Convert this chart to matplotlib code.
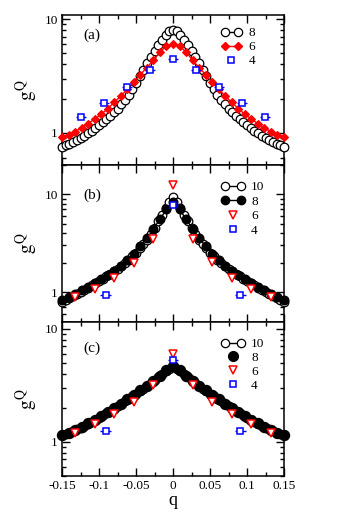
import numpy as np
import matplotlib
matplotlib.use("Agg")
import matplotlib.pyplot as plt
from matplotlib.lines import Line2D
from matplotlib.legend_handler import HandlerLine2D
from matplotlib.ticker import LogLocator, NullFormatter, MultipleLocator

plt.rcParams['font.family'] = ['Liberation Serif', 'DejaVu Serif']
plt.rcParams['mathtext.fontset'] = 'stix'

# ---------------- data ----------------
q_dense = np.round(np.linspace(-0.15, 0.15, 61), 4)
q_mid = np.round(np.linspace(-0.15, 0.15, 35), 4)

# panel (a)
a_g8 = [0.75,0.775,0.80,0.83,0.86,0.90,0.94,0.99,1.04,1.10,1.17,1.23,1.31,1.40,1.51,1.63,1.78,1.95,2.17,2.42,2.72,3.15,3.6,4.1,4.65,5.3,5.9,6.6,7.3,7.8,8.0,
        7.8,7.3,6.6,5.9,5.3,4.65,4.1,3.6,3.15,2.72,2.42,2.17,1.95,1.78,1.63,1.51,1.40,1.31,1.23,1.17,1.10,1.04,0.99,0.94,0.90,0.86,0.83,0.80,0.775,0.75]
a_g6 = [0.91,0.96,1.02,1.1,1.2,1.32,1.45,1.63,1.85,2.1,2.42,2.78,3.25,3.75,4.35,5.15,5.8,6.0,
        5.8,5.15,4.35,3.75,3.25,2.78,2.42,2.1,1.85,1.63,1.45,1.32,1.2,1.1,1.02,0.96,0.91]
a_q4 = [-0.124,-0.093,-0.062,-0.031,0.0,0.031,0.062,0.093,0.124]
a_g4 = [1.37,1.84,2.55,3.55,4.44,3.55,2.55,1.84,1.37]

# panel (b)
b_g10 = [0.79,0.83,0.87,0.91,0.96,1.0,1.06,1.11,1.17,1.23,1.30,1.37,1.45,1.53,1.63,1.73,1.83,1.97,2.13,2.32,2.54,2.8,3.1,3.45,3.9,4.5,5.3,6.2,7.3,8.4,9.5,
         8.4,7.3,6.2,5.3,4.5,3.9,3.45,3.1,2.8,2.54,2.32,2.13,1.97,1.83,1.73,1.63,1.53,1.45,1.37,1.30,1.23,1.17,1.11,1.06,1.0,0.96,0.91,0.87,0.83,0.79]
b_g8 = [0.83,0.89,0.96,1.04,1.13,1.24,1.36,1.49,1.66,1.86,2.12,2.47,2.95,3.55,4.4,5.6,7.0,8.3,
        7.0,5.6,4.4,3.55,2.95,2.47,2.12,1.86,1.66,1.49,1.36,1.24,1.13,1.04,0.96,0.89,0.83]
b_q6 = [-0.1324,-0.1059,-0.0794,-0.0529,-0.0265,0.0,0.0265,0.0529,0.0794,0.1059,0.1324]
b_g6 = [0.89,1.08,1.38,1.97,3.46,12.6,3.46,2.03,1.40,1.08,0.89]
b_q4 = [-0.091,0.0,0.091]
b_g4 = [0.94,7.7,0.94]

# panel (c)
c_g10 = [1.15,1.18,1.21,1.25,1.29,1.34,1.39,1.45,1.51,1.57,1.64,1.72,1.8,1.88,1.97,2.07,2.18,2.3,2.42,2.54,2.67,2.8,2.96,3.12,3.3,3.5,3.75,4.0,4.2,4.4,4.55,
         4.4,4.2,4.0,3.75,3.5,3.3,3.12,2.96,2.8,2.67,2.54,2.42,2.3,2.18,2.07,1.97,1.88,1.8,1.72,1.64,1.57,1.51,1.45,1.39,1.34,1.29,1.25,1.21,1.18,1.15]
c_g8 = [1.15,1.21,1.28,1.36,1.46,1.57,1.7,1.84,2.0,2.18,2.39,2.6,2.85,3.13,3.45,3.85,4.3,4.65,
        4.3,3.85,3.45,3.13,2.85,2.6,2.39,2.18,2.0,1.84,1.7,1.57,1.46,1.36,1.28,1.21,1.15]
c_q6 = [-0.1324,-0.1059,-0.0794,-0.0529,-0.0265,0.0,0.0265,0.0529,0.0794,0.1059,0.1324]
c_g6 = [1.21,1.45,1.75,2.27,3.18,6.0,3.18,2.27,1.75,1.45,1.21]
c_q4 = [-0.091,0.0,0.091]
c_g4 = [1.24,5.3,1.24]

xticks = [-0.15,-0.1,-0.05,0,0.05,0.1,0.15]
xticklabels = ['-0.15','-0.1','-0.05','0','0.05','0.1','0.15']

# ---------------- figure ----------------
W, H = 355, 515
fig = plt.figure(figsize=(W/100, H/100), dpi=100)

def px_axes(top, bottom):
    return fig.add_axes([62/W, (H-bottom)/H, 222/W, (bottom-top)/H])

axa = px_axes(15, 164.5)
axb = px_axes(164.5, 321.5)
axc = px_axes(321.5, 476)

BLUE = '#0000ff'
RED = '#ff0000'

def style(ax, ylim, label, labely, showx):
    ax.set_yscale('log')
    ax.set_xlim(-0.15, 0.15)
    ax.set_ylim(*ylim)
    ax.set_yticks([1, 10])
    ax.set_yticklabels(['1', '10'])
    ax.yaxis.set_minor_locator(LogLocator(base=10, subs=np.arange(2, 10)))
    ax.yaxis.set_minor_formatter(NullFormatter())
    ax.xaxis.set_major_locator(MultipleLocator(0.05))
    ax.xaxis.set_minor_locator(MultipleLocator(0.025))
    ax.set_xticks(xticks)
    if showx:
        ax.set_xticklabels(xticklabels)
        ax.set_xlabel('q', fontsize=13, labelpad=0)
    else:
        ax.set_xticklabels([])
    ax.tick_params(which='both', direction='in', top=True, right=True, width=1.0)
    ax.tick_params(which='major', length=5.5, labelsize=9.5, pad=3)
    ax.tick_params(which='minor', length=3)
    for s in ax.spines.values():
        s.set_linewidth(1.1)
    ax.set_ylabel(r'$\mathrm{g}^{\mathrm{Q}}$', fontsize=14)
    ax.yaxis.set_label_coords(-0.10, 0.5)
    ax.text(0.095, labely, label, transform=ax.transAxes, fontsize=11, va='center', ha='left')

def squares(ax, q, g):
    ax.errorbar(q, g, xerr=0.007, fmt='none', ecolor=BLUE, elinewidth=1.0, capsize=0, zorder=5, clip_on=False)
    ax.plot(q, g, ls='none', marker='s', ms=5, mfc='white', mec=BLUE, mew=1.1, zorder=6, clip_on=False)

LEG = dict(loc='upper left', frameon=False, numpoints=2, handletextpad=0.5,
           borderpad=0, borderaxespad=0, fontsize=9.5)

# ---- panel (a)
axa.plot(q_dense, a_g8, '-', color='black', lw=1, marker='o', ms=6.2, mfc='white', mec='black', mew=0.9, zorder=3, clip_on=False)
axa.plot(q_mid, a_g6, '-', color=RED, lw=1, marker='D', ms=3.8, mfc=RED, mec=RED, mew=0.8, zorder=4, clip_on=False)
squares(axa, a_q4, a_g4)
style(axa, (0.524, 10.9), '(a)', 0.867, False)
h8 = Line2D([], [], color='black', lw=1, marker='o', ms=6, mfc='white', mec='black', mew=0.9)
h6 = Line2D([], [], color=RED, lw=1, marker='D', ms=3.8, mfc=RED, mec=RED)
h4 = Line2D([], [], ls='none', marker='s', ms=5, mfc='white', mec=BLUE, mew=1.1)
axa.legend([h8, h6, h4], ['8', '6', '4'], bbox_to_anchor=(0.715, 0.918),
           handlelength=1.6, labelspacing=0.12,
           handler_map={h4: HandlerLine2D(numpoints=1)}, **LEG)

# ---- panel (b)
axb.plot(q_dense, b_g10, '-', color='black', lw=1, marker='o', ms=6.2, mfc='white', mec='black', mew=0.9, zorder=3, clip_on=False)
axb.plot(q_mid, b_g8, '-', color='black', lw=1, marker='o', ms=6.2, mfc='black', mec='black', zorder=3.5, clip_on=False)
axb.plot(b_q6, b_g6, ls='none', marker='v', ms=6.2, mfc='white', mec=RED, mew=1.1, zorder=4, clip_on=False)
squares(axb, b_q4, b_g4)
style(axb, (0.5, 20.2), '(b)', 0.806, False)
hb10 = Line2D([], [], color='black', lw=1, marker='o', ms=6, mfc='white', mec='black', mew=0.9)
hb8 = Line2D([], [], color='black', lw=1, marker='o', ms=6, mfc='black', mec='black')
hb6 = Line2D([], [], ls='none', marker='v', ms=6, mfc='white', mec=RED, mew=1.1)
hb4 = Line2D([], [], ls='none', marker='s', ms=5, mfc='white', mec=BLUE, mew=1.1)
axb.legend([hb10, hb8, hb6, hb4], ['10', '8', '6', '4'], bbox_to_anchor=(0.715, 0.895),
           handlelength=1.8, labelspacing=0.18,
           handler_map={hb6: HandlerLine2D(numpoints=1), hb4: HandlerLine2D(numpoints=1)}, **LEG)

# ---- panel (c)
axc.plot(q_dense, c_g10, '-', color='black', lw=1, marker='o', ms=6.2, mfc='white', mec='black', mew=0.9, zorder=3, clip_on=False)
axc.plot(q_mid, c_g8, ls='none', marker='o', ms=7.2, mfc='black', mec='black', zorder=3.5, clip_on=False)
axc.plot(c_q6, c_g6, ls='none', marker='v', ms=6.2, mfc='white', mec=RED, mew=1.1, zorder=4, clip_on=False)
squares(axc, c_q4, c_g4)
style(axc, (0.5, 11.6), '(c)', 0.828, True)
hc10 = Line2D([], [], color='black', lw=1, marker='o', ms=6, mfc='white', mec='black', mew=0.9)
hc8 = Line2D([], [], ls='none', marker='o', ms=7, mfc='black', mec='black')
hc6 = Line2D([], [], ls='none', marker='v', ms=6, mfc='white', mec=RED, mew=1.1)
hc4 = Line2D([], [], ls='none', marker='s', ms=5, mfc='white', mec=BLUE, mew=1.1)
axc.legend([hc10, hc8, hc6, hc4], ['10', '8', '6', '4'], bbox_to_anchor=(0.715, 0.893),
           handlelength=1.8, labelspacing=0.12,
           handler_map={hc8: HandlerLine2D(numpoints=1), hc6: HandlerLine2D(numpoints=1), hc4: HandlerLine2D(numpoints=1)}, **LEG)

fig.savefig('out.png', dpi=100)
